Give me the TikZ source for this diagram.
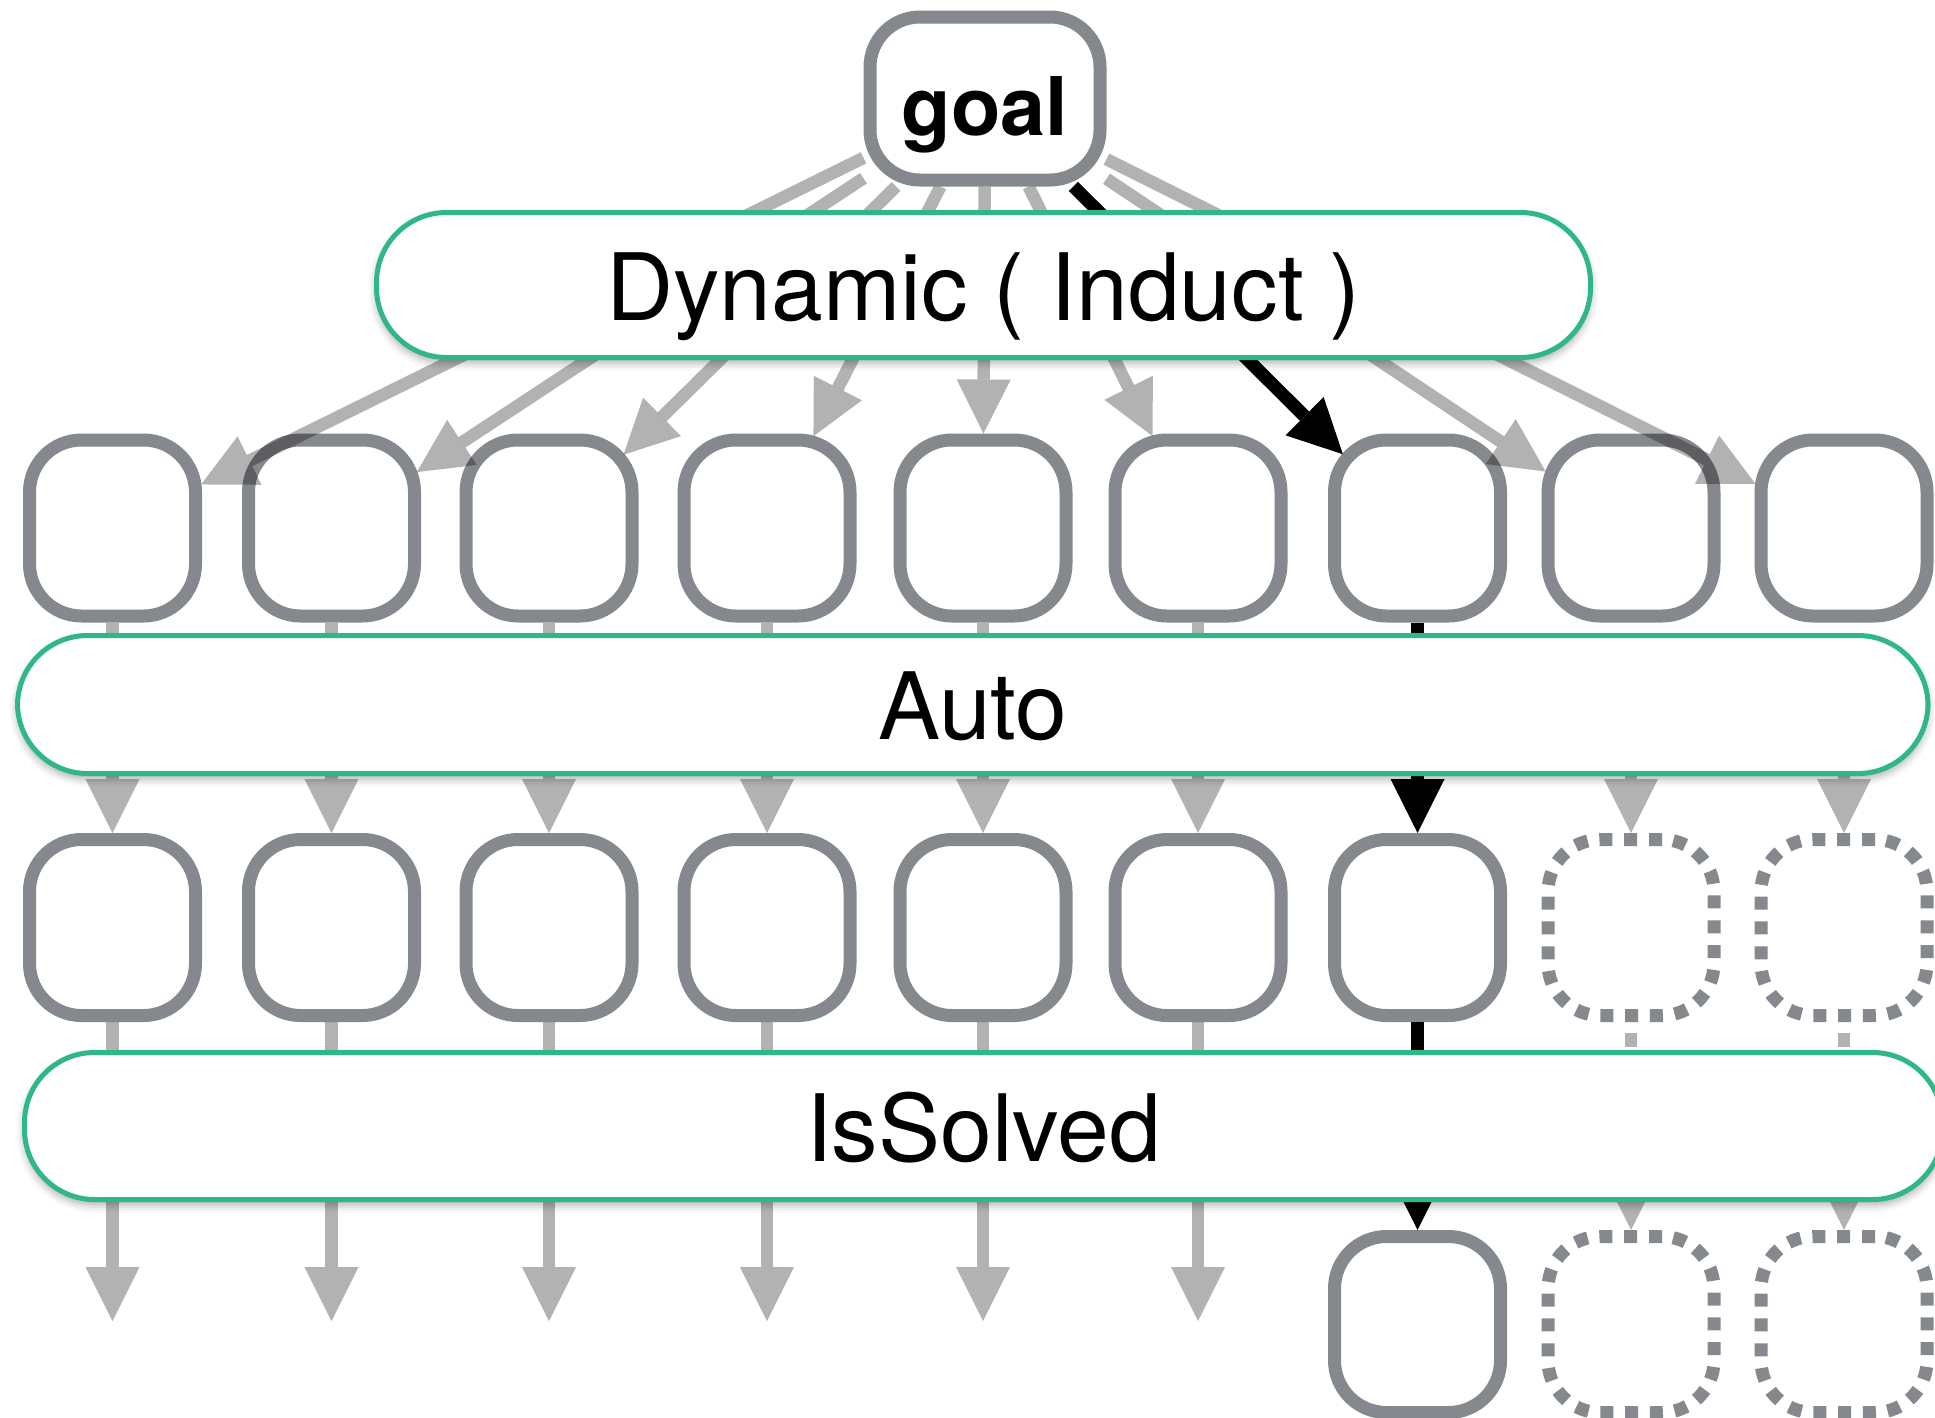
\documentclass[tikz,border=0pt]{standalone}
\usepackage{fontspec}
\setmainfont{TeX Gyre Heros}
\usetikzlibrary{arrows.meta,shadows.blur}
\definecolor{boxgray}{RGB}{133,136,140}
\definecolor{bargreen}{RGB}{47,183,134}
\pgfdeclarelayer{front}
\pgfsetlayers{main,front}

\begin{document}
\begin{tikzpicture}[x=1pt,y=-1pt,
  head/.style={-{Triangle[length=54pt,width=54pt,line width=0pt]}},
  state/.style={draw=boxgray, line width=13pt, fill=white, rounded corners=52pt,
    minimum width=166pt, minimum height=176pt, inner sep=0pt},
  ghost/.style={state, dash pattern=on 13pt off 11.8pt},
  goalbox/.style={draw=boxgray, line width=13pt, fill=white, rounded corners=50pt,
    minimum width=230pt, minimum height=163pt, inner sep=0pt,
    text height=73pt, text depth=0pt, font=\fontsize{81}{90}\selectfont\bfseries},
  bar/.style={draw=bargreen, line width=5pt, fill=white, rounded corners=70pt,
    inner sep=0pt, text height=70pt, text depth=0pt,
    font=\fontsize{93}{100}\selectfont,
    blur shadow={shadow xshift=0pt, shadow yshift=-5pt,
      shadow blur radius=8pt, shadow opacity=35}},
  flow/.style={head, black, opacity=0.3, line width=12.5pt},
  hot/.style={head, black, line width=13pt},
  faint/.style={flow, dash pattern=on 14pt off 11pt, dash phase=14pt}]

\useasboundingbox (0,0) rectangle (1935,1417);

% tactic bars and the goal sit above every connector
\begin{pgfonlayer}{front}
  \node[goalbox] (goal) at (985,98.5) {goal};
  \node[bar, minimum width=1214pt, minimum height=145pt] (dyn) at (983.5,285) {Dynamic ( Induct )};
  \node[bar, minimum width=1910.5pt, minimum height=138pt] (auto) at (972.75,704.5) {Auto};
  \node[bar, minimum width=1918pt, minimum height=147pt] (solved) at (983.5,1126) {IsSolved};
\end{pgfonlayer}

% subgoal rows
\foreach \x [count=\i] in {112.5,331.5,549,767,983,1198,1417.5,1631,1844}
  \node[state] (a\i) at (\x,528) {};
\foreach \x [count=\i] in {112.5,331.5,549,767,983,1198,1417.5}
  \node[state] (b\i) at (\x,927.5) {};
\node[ghost] (b8) at (1631,927.5) {};
\node[ghost] (b9) at (1844,927.5) {};
\node[state] (c7) at (1417.5,1324.5) {};
\node[ghost] (c8) at (1631,1324.5) {};
\node[ghost] (c9) at (1844,1324.5) {};
\foreach \x [count=\i] in {112.5,331.5,549,767,983,1198}
  \coordinate (e\i) at (\x,1321);

% goal split into subgoals
\foreach \i/\s in {1/-1,2/-5,3/-21,4/-3,5/0,6/-3,8/-5,9/-1}
  \draw[flow, shorten >=\s pt] (goal) -- (a\i);
\draw[hot, shorten >=-21pt] (goal) -- (a7);

% Auto step
\foreach \i in {1,...,6}
  \draw[flow] (a\i) -- (b\i);
\draw[hot] (a7) -- (b7);
\draw[flow, shorten <=20pt] (a8) -- (b8);
\draw[flow, shorten <=20pt] (a9) -- (b9);

% IsSolved step
\foreach \i in {1,...,6}
  \draw[flow] (b\i) -- (e\i);
\draw[hot] (b7) -- (c7);
\draw[faint] (b8) -- (c8);
\draw[faint] (b9) -- (c9);
\end{tikzpicture}
\end{document}
